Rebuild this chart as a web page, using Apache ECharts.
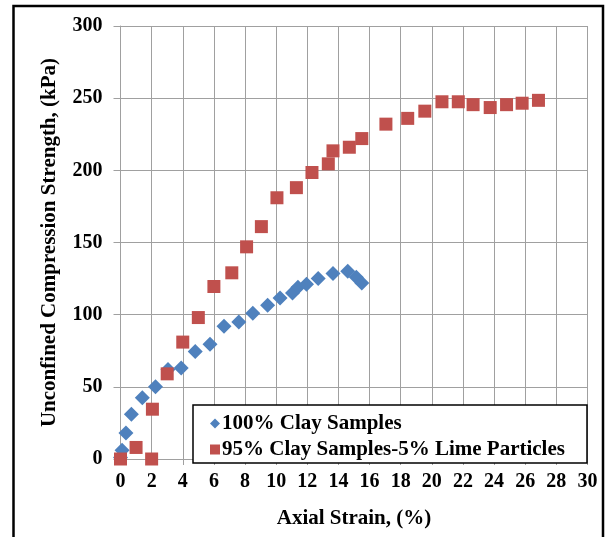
<!DOCTYPE html>
<html>
<head>
<meta charset="utf-8">
<style>html,body{margin:0;padding:0;background:#fff}#c{width:606px;height:537px}</style>
<script src="https://cdn.jsdelivr.net/npm/echarts@6/dist/echarts.min.js"></script>
</head>
<body>
<div id="c"></div>
<script>
const seriesNames = ['100% Clay Samples', '95% Clay Samples-5% Lime Particles'];
const clayStrain = [0, 0.1, 0.35, 0.7, 1.4, 2.25, 3.05, 3.9, 4.8, 5.75, 6.65, 7.6, 8.5, 9.45, 10.25, 11.05, 11.4, 11.95, 12.7, 13.65, 14.6, 15.15, 15.5];
const clayStrength = [1, 6, 18, 31, 42.5, 50, 62, 63, 74.5, 79.5, 92, 95, 101, 106.5, 111.5, 115, 119, 121, 125, 128.5, 130, 126, 122];
const limeStrain = [0, 1, 2, 2.05, 3, 4, 5, 6, 7.15, 8.1, 9.05, 10.05, 11.3, 12.3, 13.35, 13.65, 14.7, 15.5, 17.05, 18.45, 19.55, 20.65, 21.7, 22.65, 23.75, 24.8, 25.8, 26.85];
const limeStrength = [0, 8, 0, 34.5, 59, 81, 98, 119.5, 129, 147, 161, 181, 188, 198.5, 204.5, 213.5, 216, 222, 232, 236, 241, 247.5, 247.5, 245.5, 243.5, 245.5, 246.5, 248.5];
const xTicks = {min: 0, max: 30, interval: 2};
const yTicks = {min: 0, max: 300, interval: 50};

const font = 'Liberation Serif';
const zip = (a, b) => a.map((v, i) => [v, b[i]]);
const chart = echarts.init(document.getElementById('c'), null, {renderer: 'canvas'});
chart.setOption({
  animation: false,
  backgroundColor: '#fff',
  grid: {left: 120.5, right: 18.5, top: 26, bottom: 78, containLabel: false},
  xAxis: {
    type: 'value', min: xTicks.min, max: xTicks.max, interval: xTicks.interval,
    name: 'Axial Strain, (%)', nameLocation: 'middle', nameGap: 49,
    nameTextStyle: {fontFamily: font, fontWeight: 'bold', fontSize: 21, color: '#000'},
    axisLine: {show: true, lineStyle: {color: '#a0a0a0', width: 1}},
    axisTick: {show: true, inside: false, length: 6, lineStyle: {color: '#a0a0a0'}},
    axisLabel: {fontFamily: font, fontWeight: 'bold', fontSize: 20, color: '#000', margin: 13},
    splitLine: {show: true, lineStyle: {color: '#a0a0a0', width: 1}}
  },
  yAxis: {
    type: 'value', min: yTicks.min, max: yTicks.max, interval: yTicks.interval,
    name: 'Unconfined Compression Strength, (kPa)', nameLocation: 'middle', nameGap: 60,
    nameTextStyle: {fontFamily: font, fontWeight: 'bold', fontSize: 21, color: '#000'},
    axisLine: {show: true, lineStyle: {color: '#a0a0a0', width: 1}},
    axisTick: {show: true, inside: false, length: 7, lineStyle: {color: '#a0a0a0'}},
    axisLabel: {fontFamily: font, fontWeight: 'bold', fontSize: 20, color: '#000', margin: 18},
    splitLine: {show: true, lineStyle: {color: '#a0a0a0', width: 1}}
  },
  legend: {
    z: 120, zlevel: 0,
    orient: 'vertical', left: 205, top: 408, itemGap: 5, itemWidth: 10, itemHeight: 10,
    textStyle: {fontFamily: font, fontWeight: 'bold', fontSize: 21, color: '#000', padding: [0, 0, 0, -3]},
    data: [
      {name: seriesNames[0], icon: 'diamond'},
      {name: seriesNames[1], icon: 'rect'}
    ]
  },
  graphic: [
    {type: 'rect', z: 50, shape: {x: 193, y: 405, width: 394, height: 58},
     style: {fill: '#fff', stroke: '#000', lineWidth: 1.5}},
    {type: 'rect', z: 100, shape: {x: 13.5, y: 6, width: 589.5, height: 545},
     style: {fill: 'none', stroke: '#000', lineWidth: 2.5}}
  ],
  series: [
    {name: seriesNames[0], type: 'scatter', symbol: 'diamond', symbolSize: 15,
     itemStyle: {color: '#4f81bd', opacity: 1}, data: zip(clayStrain, clayStrength), z: 2},
    {name: seriesNames[1], type: 'scatter', symbol: 'rect', symbolSize: 13,
     itemStyle: {color: '#c0504d', opacity: 1}, data: zip(limeStrain, limeStrength), z: 3}
  ]
});
</script>
</body>
</html>
